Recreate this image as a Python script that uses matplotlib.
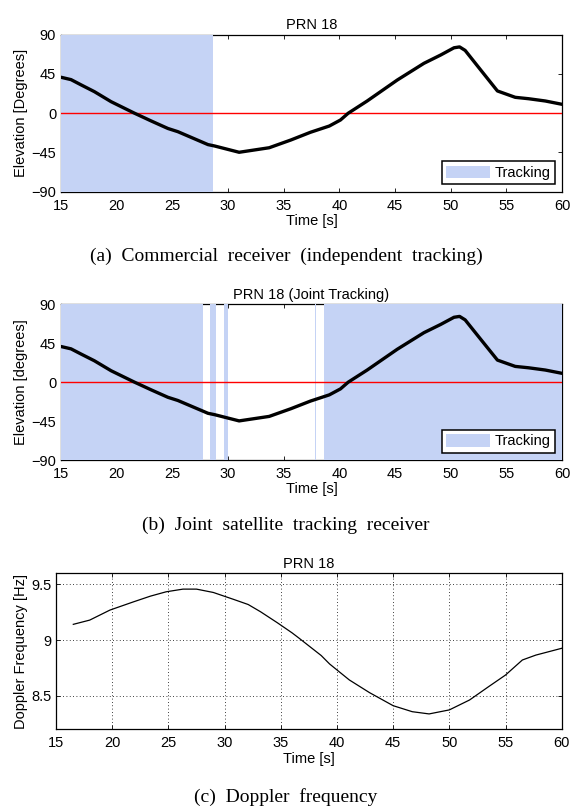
import matplotlib.pyplot as plt
import matplotlib.patches as patches
import numpy as np

plt.rcParams['font.family'] = ['Liberation Sans', 'DejaVu Sans']

# elevation of PRN 18 over time
t_elev = [15.0, 15.9, 16.8, 18.0, 19.5, 21.6, 23.1, 24.6, 25.5, 27.6, 28.2, 28.8, 31.0,
          33.7, 35.65, 37.4, 39.1, 40.1, 40.8, 42.5, 45.2, 47.6, 49.1, 50.3, 50.8, 51.3,
          52.7, 54.2, 55.8, 57.0, 58.5, 60.0]
elev = [41.2, 38.5, 32.5, 24.7, 13.2, 0, -8.9, -17.5, -21.2, -32.7, -36.0, -37.6, -44.8,
        -39.6, -30.7, -21.9, -14.7, -7.8, 0, 14, 38, 57.2, 66.7, 75.0, 76.0, 72.0,
        49.5, 25.5, 18.2, 16.6, 14, 10.2]

# tracking intervals [s]
track_a = [(15, 28.63)]
track_b = [(15, 27.75), (28.37, 28.89), (29.67, 30.0), (37.84, 37.9), (38.6, 60)]

# doppler frequency
t_dop = [16.54, 18.0, 19.8, 21.9, 23.4, 24.8, 26.3, 27.5, 29.0, 30.8, 32.1, 33.2,
         34.7, 36.0, 36.6, 38.6, 39.35, 41.1, 42.9, 45.0, 46.7, 48.2, 50.0, 51.8,
         53.5, 55.0, 56.5, 57.7, 60.0]
dop = [9.142, 9.18, 9.27, 9.344, 9.395, 9.434, 9.458, 9.458, 9.428, 9.366, 9.32, 9.255,
       9.156, 9.066, 9.02, 8.862, 8.786, 8.643, 8.529, 8.412, 8.358, 8.338, 8.374, 8.463,
       8.583, 8.687, 8.822, 8.866, 8.927]

xticks = [15, 20, 25, 30, 35, 40, 45, 50, 55, 60]
elev_ticks = [-90, -45, 0, 45, 90]
dop_ticks = [8.5, 9, 9.5]
shade = '#c5d3f5'

W, H = 572, 807
fig = plt.figure(figsize=(W / 100, H / 100), dpi=100)


def box(x0, x1, y0, y1):
    # pixel box -> figure fraction
    return [x0 / W, 1 - y1 / H, (x1 - x0) / W, (y1 - y0) / H]


def style(ax):
    ax.tick_params(direction='in', top=True, right=True, labelsize=10.5, length=3,
                   width=0.6)
    ax.tick_params(axis='x', pad=5)
    ax.tick_params(axis='y', pad=3.5)
    for s in ax.spines.values():
        s.set_linewidth(0.9)
    ax.set_xlim(15, 60)
    ax.set_xticks(xticks)
    ax.set_xlabel('Time [s]', fontsize=10.5, labelpad=1)


def elevation_panel(rect, spans, title, ylabel):
    ax = fig.add_axes(rect)
    style(ax)
    for a, b in spans:
        ax.axvspan(a, b, color=shade, lw=0, zorder=3)
    ax.axhline(0, color='red', lw=1, zorder=4)
    ax.plot(t_elev, elev, color='black', lw=2.4, zorder=5, solid_capstyle='round',
            solid_joinstyle='round')
    ax.set_ylim(-90, 90)
    ax.set_yticks(elev_ticks)
    ax.set_yticklabels(['\u221290', '\u221245', '0', '45', '90'])
    ax.set_title(title, fontsize=10.5, pad=4)
    ax.set_ylabel(ylabel, fontsize=10.5, labelpad=2)
    h = patches.Patch(facecolor=shade, edgecolor='none')
    leg = ax.legend([h], ['Tracking'], loc='lower right', fontsize=10.5, fancybox=False,
                    framealpha=1, edgecolor='black', handlelength=3.0, handleheight=0.95,
                    borderpad=0.3, handletextpad=0.3, borderaxespad=0.5)
    leg.get_frame().set_linewidth(1.1)
    leg.set_zorder(6)
    return ax


serif = 'Liberation Serif'

elevation_panel(box(61, 562, 34.7, 191.7), track_a, 'PRN 18', 'Elevation [Degrees]')
fig.text(0.5, 1 - 256 / H, '(a)  Commercial  receiver  (independent  tracking)',
         ha='center', va='center', fontsize=14, family=serif)

elevation_panel(box(61, 562, 304.3, 460), track_b, 'PRN 18 (Joint Tracking)',
                'Elevation [degrees]')
fig.text(0.5, 1 - 525 / H, '(b)  Joint  satellite  tracking  receiver',
         ha='center', va='center', fontsize=14, family=serif)

ax = fig.add_axes(box(56, 561.7, 573.3, 729.3))
style(ax)
ax.plot(t_dop, dop, color='black', lw=0.9)
ax.set_ylim(8.2, 9.6)
ax.set_yticks(dop_ticks)
ax.set_yticklabels(['8.5', '9', '9.5'])
ax.grid(True, linestyle=(0, (1, 3)), color='black', lw=0.6)
ax.set_title('PRN 18', fontsize=10.5, pad=4)
ax.set_ylabel('Doppler Frequency [Hz]', fontsize=10.5, labelpad=2)
fig.text(0.5, 1 - 797 / H, '(c)  Doppler  frequency',
         ha='center', va='center', fontsize=14, family=serif)

fig.savefig('out.png', dpi=100)
